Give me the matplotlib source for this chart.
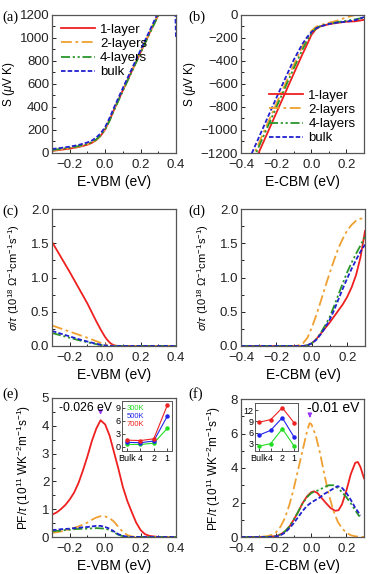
import numpy as np
import matplotlib
matplotlib.use("Agg")
import matplotlib.pyplot as plt
from matplotlib.ticker import MultipleLocator

plt.rcParams['font.family'] = ['Liberation Sans', 'DejaVu Sans']
plt.rcParams['mathtext.fontset'] = 'custom'
plt.rcParams['mathtext.rm'] = 'Liberation Sans'
plt.rcParams['mathtext.it'] = 'Liberation Sans:italic'

labels = ['1-layer', '2-layers', '4-layers', 'bulk']
colors = ['#ee2020', '#f0a030', '#2a962a', '#2020d0']

# ---------------- (a) Seebeck vs E-VBM ----------------
a_x = {
    '1-layer':  [-0.3, -0.25, -0.2, -0.15, -0.1, -0.075, -0.05, -0.025, 0.0, 0.025, 0.05, 0.1, 0.15, 0.2, 0.25, 0.3, 0.35],
    '2-layers': [-0.3, -0.25, -0.2, -0.15, -0.1, -0.075, -0.05, -0.025, 0.0, 0.025, 0.05, 0.1, 0.15, 0.2, 0.25, 0.3, 0.35],
    '4-layers': [-0.3, -0.25, -0.2, -0.15, -0.1, -0.075, -0.05, -0.025, 0.0, 0.025, 0.05, 0.1, 0.15, 0.2, 0.25, 0.3, 0.35],
    'bulk':     [-0.3, -0.25, -0.2, -0.15, -0.1, -0.075, -0.05, -0.025, 0.0, 0.025, 0.05, 0.1, 0.15, 0.2, 0.25, 0.3, 0.38, 0.395, 0.4],
}
a_y = {
    '1-layer':  [18, 28, 38, 52, 72, 88, 112, 150, 205, 285, 375, 545, 710, 875, 1040, 1200, 1365],
    '2-layers': [22, 32, 42, 56, 76, 92, 116, 155, 210, 290, 380, 550, 715, 880, 1045, 1205, 1370],
    '4-layers': [26, 36, 46, 60, 80, 95, 118, 154, 205, 280, 370, 540, 705, 870, 1035, 1195, 1360],
    'bulk':     [35, 44, 55, 70, 92, 108, 135, 172, 225, 305, 395, 565, 730, 895, 1060, 1225, 1500, 1300, 1000],
}

# ---------------- (b) Seebeck vs E-CBM ----------------
b_x = [-0.4, -0.3, -0.2, -0.1, -0.05, -0.025, 0.0, 0.025, 0.05, 0.1, 0.15, 0.2, 0.25, 0.3]
b_y = {
    '1-layer':  [-1545, -1200, -855, -510, -340, -260, -175, -125, -100, -80, -68, -58, -55, -42],
    '2-layers': [-1465, -1120, -775, -435, -270, -200, -140, -105, -88, -68, -48, -20, 0, 5],
    '4-layers': [-1495, -1150, -805, -465, -300, -225, -160, -118, -98, -78, -62, -50, -38, -22],
    'bulk':     [-1415, -1070, -725, -390, -250, -195, -150, -118, -100, -78, -65, -58, -45, -18],
}

# ---------------- (c) sigma/tau vs E-VBM ----------------
c_x = [-0.3, -0.25, -0.2, -0.15, -0.1, -0.075, -0.05, -0.025, 0.0, 0.015, 0.03, 0.045, 0.06, 0.08, 0.2, 0.4]
c_y = {
    '1-layer':  [1.52, 1.30, 1.08, 0.85, 0.62, 0.49, 0.36, 0.24, 0.13, 0.08, 0.04, 0.015, 0.005, 0.0, 0.0, 0.0],
    '2-layers': [0.30, 0.255, 0.21, 0.165, 0.12, 0.095, 0.07, 0.045, 0.025, 0.015, 0.008, 0.003, 0.0, 0.0, 0.0, 0.0],
    '4-layers': [0.19, 0.155, 0.12, 0.085, 0.055, 0.04, 0.027, 0.015, 0.006, 0.003, 0.0, 0.0, 0.0, 0.0, 0.0, 0.0],
    'bulk':     [0.22, 0.18, 0.14, 0.10, 0.065, 0.048, 0.032, 0.018, 0.008, 0.004, 0.0, 0.0, 0.0, 0.0, 0.0, 0.0],
}

# ---------------- (d) sigma/tau vs E-CBM ----------------
d_x = [-0.4, -0.1, -0.075, -0.05, -0.025, 0.0, 0.025, 0.05, 0.075, 0.1, 0.125, 0.15, 0.175, 0.2, 0.225, 0.25, 0.275, 0.3]
d_y = {
    '1-layer':  [0.0, 0.0, 0.0, 0.0, 0.01, 0.04, 0.10, 0.18, 0.26, 0.34, 0.43, 0.52, 0.61, 0.72, 0.86, 1.04, 1.30, 1.68],
    '2-layers': [0.0, 0.0, 0.01, 0.04, 0.12, 0.27, 0.45, 0.65, 0.86, 1.06, 1.25, 1.43, 1.57, 1.69, 1.77, 1.83, 1.86, 1.86],
    '4-layers': [0.0, 0.0, 0.0, 0.0, 0.01, 0.04, 0.10, 0.19, 0.30, 0.42, 0.58, 0.75, 0.92, 1.08, 1.22, 1.35, 1.47, 1.60],
    'bulk':     [0.0, 0.0, 0.0, 0.0, 0.01, 0.04, 0.09, 0.17, 0.27, 0.38, 0.52, 0.68, 0.84, 0.99, 1.13, 1.26, 1.38, 1.48],
}

# ---------------- (e) PF/tau vs E-VBM ----------------
e_x = [-0.3, -0.275, -0.25, -0.225, -0.2, -0.175, -0.15, -0.125, -0.1, -0.075, -0.05, -0.026,
       0.0, 0.025, 0.05, 0.075, 0.1, 0.125, 0.15, 0.175, 0.2, 0.225, 0.25, 0.3, 0.4]
e_y = {
    '1-layer':  [0.80, 0.88, 1.00, 1.15, 1.35, 1.60, 1.95, 2.40, 2.90, 3.45, 3.90, 4.20,
                 4.05, 3.65, 3.05, 2.45, 1.80, 1.30, 0.90, 0.52, 0.25, 0.10, 0.04, 0.0, 0.0],
    '2-layers': [0.15, 0.17, 0.20, 0.24, 0.28, 0.33, 0.38, 0.45, 0.52, 0.62, 0.70, 0.75,
                 0.74, 0.68, 0.55, 0.36, 0.18, 0.07, 0.02, 0.0, 0.0, 0.0, 0.0, 0.0, 0.0],
    '4-layers': [0.20, 0.22, 0.23, 0.25, 0.26, 0.28, 0.29, 0.30, 0.30, 0.31, 0.32, 0.31,
                 0.30, 0.25, 0.17, 0.08, 0.03, 0.01, 0.0, 0.0, 0.0, 0.0, 0.0, 0.0, 0.0],
    'bulk':     [0.25, 0.26, 0.28, 0.29, 0.30, 0.32, 0.33, 0.35, 0.36, 0.38, 0.40, 0.40,
                 0.36, 0.30, 0.20, 0.10, 0.04, 0.01, 0.0, 0.0, 0.0, 0.0, 0.0, 0.0, 0.0],
}

# ---------------- (f) PF/tau vs E-CBM ----------------
f_x = {
    '1-layer':  [-0.4, -0.25, -0.2, -0.175, -0.15, -0.125, -0.1, -0.075, -0.05, -0.025, 0.0, 0.015,
                 0.035, 0.06, 0.085, 0.11, 0.135, 0.155, 0.175, 0.2, 0.225, 0.25, 0.265, 0.28, 0.3],
    '2-layers': [-0.4, -0.3, -0.25, -0.225, -0.2, -0.175, -0.15, -0.125, -0.1, -0.075, -0.05, -0.025,
                 -0.01, 0.0, 0.025, 0.05, 0.075, 0.1, 0.125, 0.15, 0.175, 0.2, 0.225, 0.25, 0.3],
    '4-layers': [-0.4, -0.25, -0.2, -0.175, -0.15, -0.125, -0.1, -0.075, -0.05, -0.025, 0.0, 0.025,
                 0.05, 0.075, 0.1, 0.125, 0.15, 0.175, 0.2, 0.225, 0.25, 0.275],
    'bulk':     [-0.4, -0.25, -0.2, -0.175, -0.15, -0.125, -0.1, -0.075, -0.05, -0.025, 0.0, 0.025,
                 0.05, 0.075, 0.1, 0.125, 0.15, 0.175, 0.2, 0.225, 0.25, 0.28],
}
f_y = {
    '1-layer':  [0.0, 0.0, 0.05, 0.15, 0.32, 0.60, 1.00, 1.45, 1.95, 2.35, 2.60, 2.65,
                 2.55, 2.25, 1.95, 1.68, 1.52, 1.55, 1.90, 2.70, 3.65, 4.30, 4.35, 4.05, 3.40],
    '2-layers': [0.0, 0.0, 0.05, 0.12, 0.28, 0.60, 1.10, 1.85, 2.80, 3.90, 5.00, 6.10,
                 6.60, 6.55, 5.90, 4.85, 3.60, 2.45, 1.55, 0.90, 0.50, 0.25, 0.10, 0.04, 0.0],
    '4-layers': [0.0, 0.0, 0.05, 0.15, 0.32, 0.60, 1.00, 1.45, 1.95, 2.30, 2.55, 2.65,
                 2.75, 2.90, 3.00, 3.00, 2.85, 2.60, 2.30, 1.95, 1.55, 1.18],
    'bulk':     [0.0, 0.0, 0.03, 0.10, 0.25, 0.50, 0.80, 1.15, 1.50, 1.80, 2.00, 2.15,
                 2.30, 2.50, 2.65, 2.80, 2.95, 2.85, 2.55, 2.15, 1.70, 1.25],
}

# ---------------- insets ----------------
inset_cats = ['Bulk', '4', '2', '1']
inset_temps = ['300K', '500K', '700K']
inset_colors = ['#22dd22', '#2222ee', '#ee2222']
e_inset = {
    '300K': [0.5, 0.5, 0.8, 4.2],
    '500K': [1.0, 0.9, 1.3, 7.0],
    '700K': [1.5, 1.4, 1.8, 9.5],
}
f_inset = {
    '300K': [2.3, 3.0, 7.0, 2.4],
    '500K': [5.3, 6.6, 10.0, 4.8],
    '700K': [8.8, 9.5, 12.7, 8.7],
}

styles = {
    '1-layer': dict(ls='-'),
    '2-layers': dict(ls=(0, (6, 2, 1.5, 2))),
    '4-layers': dict(ls=(0, (5, 1.5, 1.2, 1.5, 1.2, 1.5))),
    'bulk': dict(ls=(0, (2.5, 1.2))),
}

W, H = 371, 574
fig = plt.figure(figsize=(W / 100, H / 100), dpi=100)


def add_ax(x0, y0, x1, y1):
    return fig.add_axes([x0 / W, 1 - y1 / H, (x1 - x0) / W, (y1 - y0) / H])


FS = 9.5
SPINE = '#555555'


def style_ax(ax):
    for s in ax.spines.values():
        s.set_color(SPINE)
        s.set_linewidth(0.9)
    ax.tick_params(direction='in', which='both', labelsize=FS, colors='#222222',
                   top=False, right=False, length=3, width=0.7, pad=2)
    ax.tick_params(axis='x', which='both', pad=4.5)
    ax.tick_params(which='minor', length=1.8)


axa = add_ax(52, 15, 176, 153)
axb = add_ax(241, 15, 364, 153)
axc = add_ax(52, 209, 176, 346)
axd = add_ax(241, 209, 365, 346)
axe = add_ax(52, 398, 176, 537)
axf = add_ax(241, 399, 364, 537)

lw = 1.3
for i, lab in enumerate(labels):
    kw = dict(color=colors[i], lw=lw, label=lab, **styles[lab])
    axa.plot(a_x[lab], a_y[lab], **kw)
    axb.plot(b_x, b_y[lab], **kw)
    axc.plot(c_x, c_y[lab], **kw)
    axd.plot(d_x, d_y[lab], **kw)
    axe.plot(e_x, e_y[lab], **kw)
    axf.plot(f_x[lab], f_y[lab], **kw)

axa.set_xlim(-0.3, 0.4); axa.set_ylim(0, 1200)
axa.yaxis.set_major_locator(MultipleLocator(200)); axa.yaxis.set_minor_locator(MultipleLocator(100))
axb.set_xlim(-0.4, 0.3); axb.set_ylim(-1200, 0)
axb.yaxis.set_major_locator(MultipleLocator(200)); axb.yaxis.set_minor_locator(MultipleLocator(100))
axc.set_xlim(-0.3, 0.4); axc.set_ylim(0, 2)
axc.yaxis.set_major_locator(MultipleLocator(0.5)); axc.yaxis.set_minor_locator(MultipleLocator(0.25))
axd.set_xlim(-0.4, 0.3); axd.set_ylim(0, 2)
axd.yaxis.set_major_locator(MultipleLocator(0.5)); axd.yaxis.set_minor_locator(MultipleLocator(0.25))
axe.set_xlim(-0.3, 0.4); axe.set_ylim(0, 5)
axe.yaxis.set_major_locator(MultipleLocator(1)); axe.yaxis.set_minor_locator(MultipleLocator(0.5))
axf.set_xlim(-0.4, 0.3); axf.set_ylim(0, 8)
axf.yaxis.set_major_locator(MultipleLocator(2)); axf.yaxis.set_minor_locator(MultipleLocator(1))

for ax in (axa, axb, axc, axd, axe, axf):
    ax.xaxis.set_major_locator(MultipleLocator(0.2))
    ax.xaxis.set_minor_locator(MultipleLocator(0.1))
    style_ax(ax)

XFS = 10
for ax in (axa, axc, axe):
    ax.set_xlabel('E-VBM (eV)', fontsize=XFS, labelpad=3)
for ax in (axb, axd, axf):
    ax.set_xlabel('E-CBM (eV)', fontsize=XFS, labelpad=3)

axa.set_ylabel(r'S ($\mu$V K)', fontsize=8.5, labelpad=2)
axb.set_ylabel(r'S ($\mu$V K)', fontsize=8.5, labelpad=2)
sig = r'$\sigma/\tau$ (10$^{18}$ $\Omega^{-1}$cm$^{-1}$s$^{-1}$)'
axc.set_ylabel(sig, fontsize=8, labelpad=6)
axd.set_ylabel(sig, fontsize=8, labelpad=6)
pf = r'PF/$\tau$ (10$^{11}$ WK$^{-2}$m$^{-1}$s$^{-1}$)'
axe.set_ylabel(pf, fontsize=8.5, labelpad=6)
axf.set_ylabel(pf, fontsize=8.5, labelpad=6)

axa.legend(loc='upper left', frameon=False, fontsize=FS, handlelength=2.6,
           labelspacing=0.15, borderaxespad=0.25, handletextpad=0.4)
axb.legend(loc='lower right', frameon=False, fontsize=FS, handlelength=2.6,
           labelspacing=0.15, borderaxespad=0.25, handletextpad=0.4)

for txt, (px, py) in zip(['(a)', '(b)', '(c)', '(d)', '(e)', '(f)'],
                         [(2, 17), (188, 17), (2, 211), (188, 211), (2, 394), (188, 394)]):
    fig.text(px / W, 1 - py / H, txt, fontsize=10.5, family='Liberation Serif', va='center', ha='left')

purple = '#9933ff'
axe.annotate('', xy=(-0.026, 4.3), xytext=(-0.026, 4.6),
             arrowprops=dict(arrowstyle='-|>', color=purple, lw=0.9, mutation_scale=6))
axe.text(-0.26, 4.64, '-0.026 eV', fontsize=8.8, ha='left', va='center')
axf.annotate('', xy=(-0.008, 6.75), xytext=(-0.008, 7.2),
             arrowprops=dict(arrowstyle='-|>', color=purple, lw=0.9, mutation_scale=6))
axf.text(-0.025, 7.45, '-0.01 eV', fontsize=FS + 0.5, ha='left', va='center')


def inset(rect, data, ylim, yticks, show_leg):
    ax = add_ax(*rect)
    xs = np.arange(len(inset_cats))
    for t, c in zip(inset_temps, inset_colors):
        ax.plot(xs, data[t], color=c, lw=0.8, marker='o', ms=2.2)
    ax.set_xlim(-0.35, 3.35)
    ax.set_ylim(*ylim)
    ax.set_xticks(xs)
    ax.set_xticklabels(inset_cats)
    ax.set_yticks(yticks)
    for s in ax.spines.values():
        s.set_color(SPINE); s.set_linewidth(0.7)
    ax.tick_params(direction='in', labelsize=6.5, length=2, width=0.5, pad=1)
    ax.tick_params(axis='x', pad=2)
    if show_leg:
        for k, (t, c) in enumerate(zip(inset_temps, inset_colors)):
            ax.text(0.1, 0.86 - k * 0.16, t, color=c, fontsize=5.5, transform=ax.transAxes,
                    ha='left', va='center')
    return ax


inset((122, 401, 172, 451), e_inset, (-1.0, 10.5), [0, 3, 6, 9], True)
inset((255, 403, 298, 451), f_inset, (1, 14), [3, 6, 9, 12], False)

fig.savefig('out.png', dpi=100)
